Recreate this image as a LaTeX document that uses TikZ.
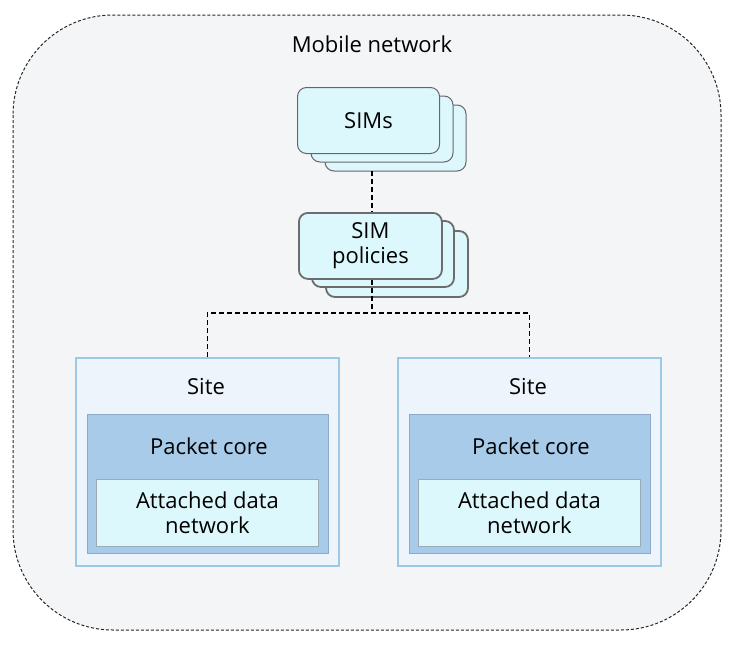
\documentclass[tikz,border=0pt]{standalone}
\usepackage{fontspec}
\setmainfont{Open Sans}
\begin{document}
\begin{tikzpicture}[x=1pt,y=-1pt,
  lbl/.style={font=\fontsize{22}{25}\selectfont, text=black, align=center, inner sep=0pt},
  simbox/.style={draw=gray!80!black, line width=1pt, fill=cyanfill, rounded corners=9pt},
  polbox/.style={draw=gray!85!black, line width=1.8pt, fill=cyanfill, rounded corners=9pt},
  sitebox/.style={draw=siteline, line width=1.6pt, fill=sitefill},
  corebox/.style={draw=coreline, line width=1pt, fill=corefill},
  adnbox/.style={draw=adnline, line width=1pt, fill=cyanfill},
  link/.style={draw=black, line width=1.5pt, dash pattern=on 5pt off 3pt}
]
\definecolor{cyanfill}{HTML}{DDF8FD}
\definecolor{sitefill}{HTML}{EEF4FB}
\definecolor{siteline}{HTML}{9DC8E6}
\definecolor{corefill}{HTML}{A7CBE8}
\definecolor{coreline}{HTML}{8FA9C9}
\definecolor{adnline}{HTML}{9AAAB6}
\definecolor{outerfill}{HTML}{F4F5F7}
\useasboundingbox (0,0) rectangle (734,646);
% outer
\draw[fill=outerfill, draw=black!85, line width=1pt, dash pattern=on 3pt off 2pt, rounded corners=100pt] (13,15) rectangle (721,630);
\node[lbl] (title) at (372,44) {Mobile network};
% SIMs stack
\draw[simbox] (325,105) rectangle (466,171);
\draw[simbox] (311,96) rectangle (453,162);
\node[simbox, minimum width=142pt, minimum height=66pt, anchor=north west, inner sep=0pt] (sims) at (297,87) {};
\node[lbl] at (sims.center) {SIMs};
% SIM policies stack
\draw[polbox] (326,231) rectangle (468,297);
\draw[polbox] (312,221) rectangle (454,287);
\node[polbox, minimum width=143pt, minimum height=66pt, anchor=north west, inner sep=0pt] (pol) at (298,212) {};
\node[lbl] at (pol.center) {SIM\\policies};
% sites
\node[sitebox, minimum width=263pt, minimum height=208pt, anchor=north west, inner sep=0pt] (siteL) at (75,357) {};
\node[sitebox, minimum width=263pt, minimum height=208pt, anchor=north west, inner sep=0pt] (siteR) at (397,357) {};
\node[lbl] at (206,387) {Site};
\node[lbl] at (528,387) {Site};
\node[corebox, minimum width=241pt, minimum height=139pt, anchor=north west, inner sep=0pt] (coreL) at (87,414) {};
\node[corebox, minimum width=241pt, minimum height=139pt, anchor=north west, inner sep=0pt] (coreR) at (409,414) {};
\node[lbl] at (209,446) {Packet core};
\node[lbl] at (531,446) {Packet core};
\node[adnbox, minimum width=222pt, minimum height=67pt, anchor=north west, inner sep=0pt] (adnL) at (96,479) {};
\node[adnbox, minimum width=222pt, minimum height=67pt, anchor=north west, inner sep=0pt] (adnR) at (418,479) {};
\node[lbl] at (adnL.center) {Attached data\\network};
\node[lbl] at (adnR.center) {Attached data\\network};
% links
\coordinate (j) at (372,313);
\draw[link] (372,171) -- (pol.north -| 372,0);
\draw[link] (pol.south -| 372,0) -- (j);
\draw[link] (siteL.north) |- (j) -| (siteR.north);
\end{tikzpicture}
\end{document}
